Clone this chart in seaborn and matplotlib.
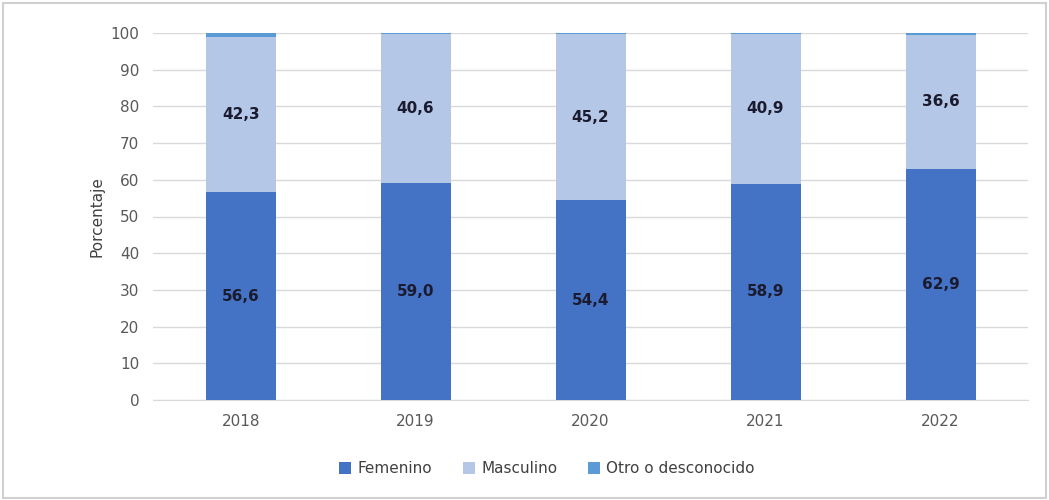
import pandas as pd
import matplotlib.pyplot as plt
import seaborn as sns

# Data
years = ['2018', '2019', '2020', '2021', '2022']
femenino = [56.6, 59.0, 54.4, 58.9, 62.9]
masculino = [42.3, 40.6, 45.2, 40.9, 36.6]
otro = [1.1, 0.4, 0.4, 0.2, 0.5]

df = pd.DataFrame({'Año': years, 'Femenino': femenino,
                   'Masculino': masculino, 'Otro': otro})
df['base_otro'] = df['Femenino'] + df['Masculino']

sns.set_style('white')
plt.rcParams['font.family'] = ['DejaVu Sans']

fig = plt.figure(figsize=(10.49, 5), dpi=100)
ax = fig.add_axes([0.146, 0.2, 0.834, 0.734])

c_fem = '#4472C4'
c_mas = '#B4C7E7'
c_otro = '#5B9BD5'

sns.barplot(data=df, x='Año', y='Femenino', color=c_fem, width=0.4, saturation=1,
            linewidth=0, ax=ax, label='Femenino', zorder=3)
sns.barplot(data=df, x='Año', y='Masculino', color=c_mas, width=0.4, saturation=1,
            linewidth=0, bottom=df['Femenino'], ax=ax, label='Masculino', zorder=3)
sns.barplot(data=df, x='Año', y='Otro', color=c_otro, width=0.4, saturation=1,
            linewidth=0, bottom=df['base_otro'], ax=ax, label='Otro o desconocido', zorder=3)

# value labels
for i, row in df.iterrows():
    ax.text(i, row['Femenino'] / 2, f"{row['Femenino']:.1f}".replace('.', ','),
            ha='center', va='center', fontsize=11, fontweight='bold', color='#1b1b2f', zorder=4)
    ax.text(i, row['Femenino'] + row['Masculino'] / 2,
            f"{row['Masculino']:.1f}".replace('.', ','),
            ha='center', va='center', fontsize=11, fontweight='bold', color='#1b1b2f', zorder=4)

ax.set_ylim(0, 100)
ax.set_xlim(-0.5, 4.5)
ax.set_yticks(range(0, 101, 10))
ax.yaxis.grid(True, color='#d9d9d9', linewidth=1, zorder=0)
ax.set_xlabel('')
ax.set_ylabel('Porcentaje', fontsize=11, color='#404040')
ax.tick_params(axis='both', length=0, labelsize=11, labelcolor='#595959', pad=10)
for s in ['top', 'right', 'left']:
    ax.spines[s].set_visible(False)
ax.spines['bottom'].set_color('#d9d9d9')

ax.legend(loc='upper center', bbox_to_anchor=(0.45, -0.13), ncol=3, frameon=False,
          fontsize=11, handlelength=0.8, handleheight=0.8, columnspacing=2.0,
          handletextpad=0.4, labelcolor='#404040')

fig.patches.append(plt.Rectangle((0.003, 0.005), 0.994, 0.99, transform=fig.transFigure,
                                 fill=False, edgecolor='#d0d0d0', linewidth=1.5))

fig.savefig('out.png', dpi=100)
